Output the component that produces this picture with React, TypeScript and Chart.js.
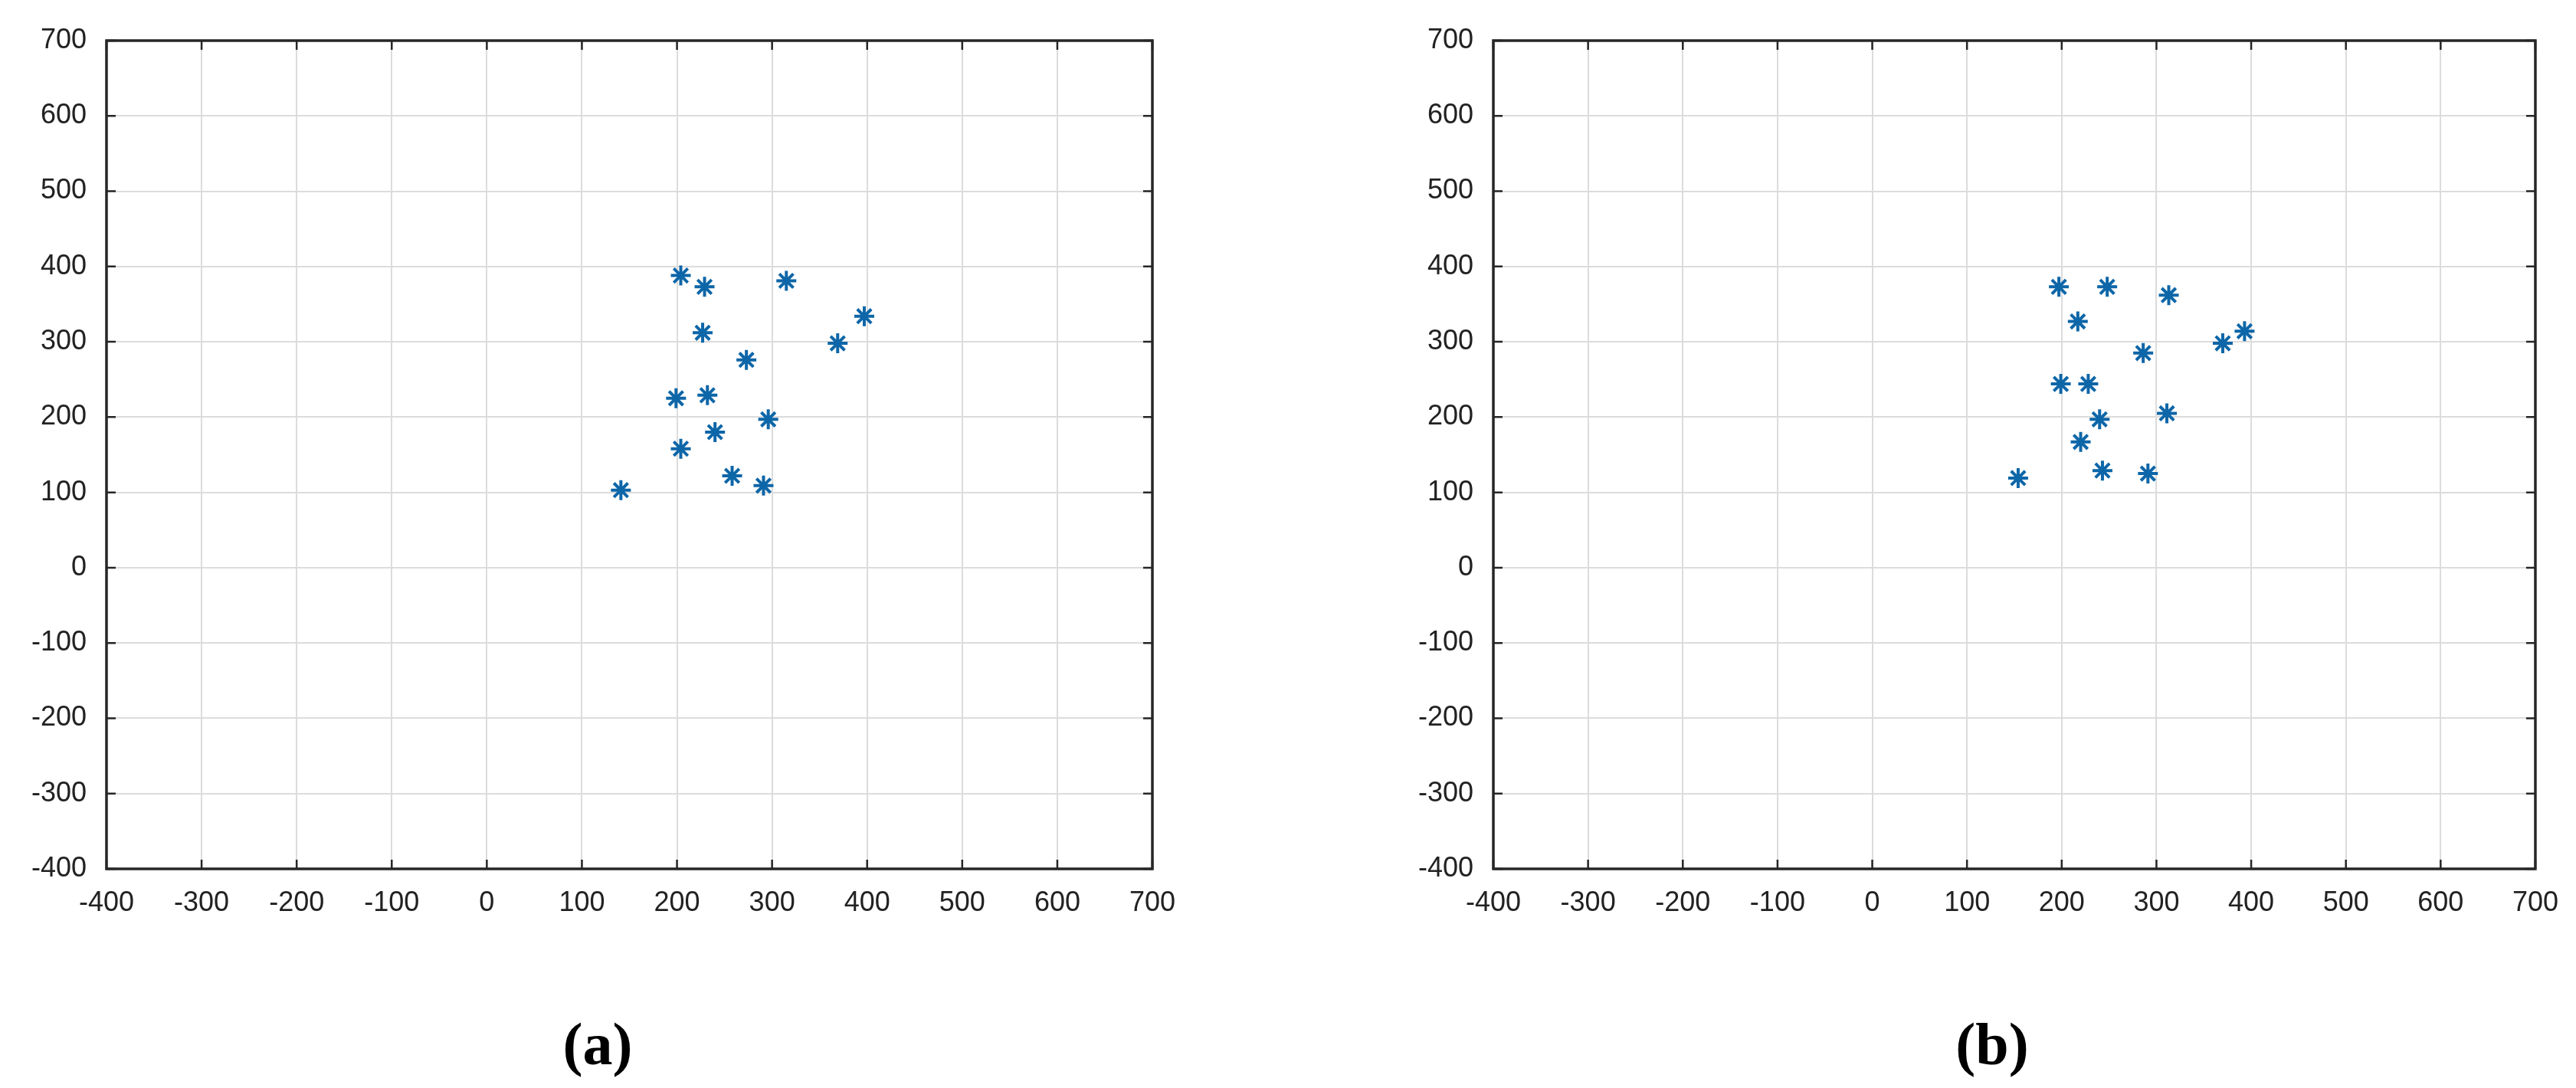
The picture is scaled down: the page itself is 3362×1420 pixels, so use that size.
import React, { useEffect, useRef } from "react";
import { Chart, registerables } from "chart.js";

Chart.register(...registerables);

const xTicks = [-400, -300, -200, -100, 0, 100, 200, 300, 400, 500, 600, 700];
const yTicks = [-400, -300, -200, -100, 0, 100, 200, 300, 400, 500, 600, 700];

const seriesA_x = [204, 229, 315, 397, 369, 227, 273, 199, 232, 296, 240, 204, 258, 291, 141];
const seriesA_y = [388, 373, 381, 334, 298, 312, 276, 225, 229, 197, 180, 158, 122, 109, 103];

const seriesB_x = [197, 248, 313, 217, 393, 370, 286, 199, 228, 311, 240, 220, 243, 291, 154];
const seriesB_y = [373, 373, 362, 327, 314, 298, 285, 244, 244, 205, 197, 167, 129, 125, 119];

const captions = ["(a)", "(b)"];

const AXIS_COLOR = "#262626";
const MARKER_COLOR = "#0d66a8";

const boxPlugin = {
  id: "boxTicks",
  afterDraw(chart: any) {
    const { ctx, chartArea } = chart;
    const xs = chart.scales.x;
    const ys = chart.scales.y;
    const tl = 12;
    ctx.save();
    ctx.strokeStyle = AXIS_COLOR;
    ctx.lineWidth = 2.5;
    ctx.beginPath();
    xTicks.forEach((v) => {
      const px = xs.getPixelForValue(v);
      ctx.moveTo(px, chartArea.bottom);
      ctx.lineTo(px, chartArea.bottom - tl);
      ctx.moveTo(px, chartArea.top);
      ctx.lineTo(px, chartArea.top + tl);
    });
    yTicks.forEach((v) => {
      const py = ys.getPixelForValue(v);
      ctx.moveTo(chartArea.left, py);
      ctx.lineTo(chartArea.left + tl, py);
      ctx.moveTo(chartArea.right, py);
      ctx.lineTo(chartArea.right - tl, py);
    });
    ctx.stroke();
    ctx.lineWidth = 3.5;
    ctx.strokeRect(chartArea.left, chartArea.top, chartArea.right - chartArea.left, chartArea.bottom - chartArea.top);
    ctx.restore();
  },
};

function ScatterPanel(props: { xs: number[]; ys: number[]; left: number; width: number; height: number; padRight: number }) {
  const ref = useRef<HTMLCanvasElement | null>(null);
  useEffect(() => {
    if (!ref.current) return;
    const data = props.xs.map((x, i) => ({ x, y: props.ys[i] }));
    const tickFont = { family: "'Liberation Sans', Arial, sans-serif", size: 36 };
    const chart = new Chart(ref.current, {
      type: "scatter",
      data: {
        datasets: [
          {
            data,
            pointStyle: "star",
            pointRadius: 13,
            pointBorderWidth: 4,
            borderColor: MARKER_COLOR,
            backgroundColor: MARKER_COLOR,
          },
        ],
      },
      options: {
        responsive: false,
        animation: false,
        layout: { padding: { top: 53, right: props.padRight, bottom: 0, left: 0 } },
        plugins: { legend: { display: false }, tooltip: { enabled: false } },
        scales: {
          x: {
            type: "linear",
            min: xTicks[0],
            max: xTicks[xTicks.length - 1],
            afterBuildTicks: (s: any) => {
              s.ticks = xTicks.map((v) => ({ value: v }));
            },
            afterFit: (s: any) => {
              s.height = props.height - 1134;
            },
            grid: { color: "#dcdcdc", lineWidth: 2, drawTicks: false },
            border: { display: false },
            ticks: { font: tickFont, color: "#222", padding: 23, maxRotation: 0, autoSkip: false },
          },
          y: {
            type: "linear",
            min: yTicks[0],
            max: yTicks[yTicks.length - 1],
            afterBuildTicks: (s: any) => {
              s.ticks = yTicks.map((v) => ({ value: v }));
            },
            afterFit: (s: any) => {
              s.width = 139;
            },
            grid: { color: "#dcdcdc", lineWidth: 2, drawTicks: false },
            border: { display: false },
            ticks: { font: tickFont, color: "#222", padding: 26, autoSkip: false },
          },
        },
      },
      plugins: [boxPlugin],
    });
    return () => chart.destroy();
  }, []);
  return (
    <canvas
      ref={ref}
      width={props.width}
      height={props.height}
      style={{ position: "absolute", left: props.left, top: 0, width: props.width, height: props.height }}
    />
  );
}

export default function App() {
  const capStyle = (cx: number): React.CSSProperties => ({
    position: "absolute",
    left: cx - 150,
    width: 300,
    top: 1323,
    height: 80,
    lineHeight: "80px",
    textAlign: "center",
    fontFamily: "'Liberation Serif', 'Times New Roman', serif",
    fontWeight: "bold",
    fontSize: 78,
    color: "#000",
  });
  return (
    <div style={{ position: "absolute", left: 0, top: 0, width: 3362, height: 1420, background: "#fff", overflow: "hidden" }}>
      <ScatterPanel xs={seriesA_x} ys={seriesA_y} left={0} width={1700} height={1260} padRight={196} />
      <ScatterPanel xs={seriesB_x} ys={seriesB_y} left={1810} width={1552} height={1260} padRight={48} />
      <div style={capStyle(780)}>{captions[0]}</div>
      <div style={capStyle(2600)}>{captions[1]}</div>
    </div>
  );
}
